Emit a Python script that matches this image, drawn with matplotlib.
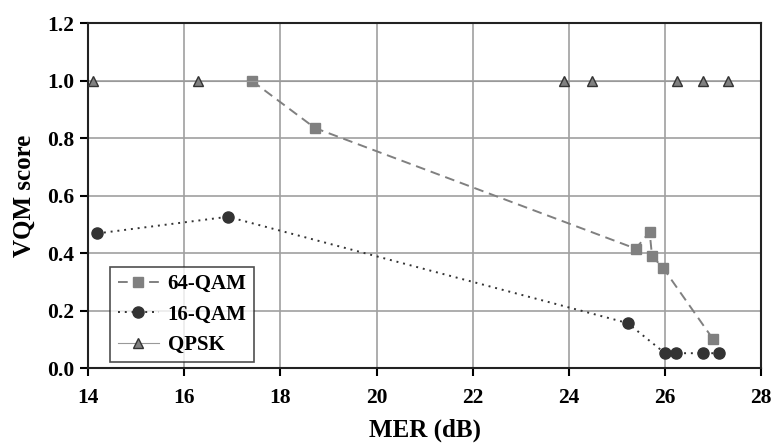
import matplotlib.pyplot as plt

# data
mer_64 = [17.41, 18.72, 25.39, 25.68, 25.73, 25.96, 26.99]
vqm_64 = [1.0, 0.836, 0.416, 0.474, 0.39, 0.349, 0.103]

mer_16 = [14.19, 16.91, 25.22, 26.0, 26.22, 26.78, 27.12]
vqm_16 = [0.469, 0.527, 0.157, 0.052, 0.052, 0.052, 0.052]

mer_qpsk = [14.1, 16.29, 23.9, 24.48, 26.25, 26.8, 27.3]
vqm_qpsk = [1.0, 1.0, 1.0, 1.0, 1.0, 1.0, 1.0]

x_ticks = [14, 16, 18, 20, 22, 24, 26, 28]
y_ticks = [0.0, 0.2, 0.4, 0.6, 0.8, 1.0, 1.2]

plt.rcParams['font.family'] = ['Liberation Serif', 'DejaVu Serif']
plt.rcParams['font.weight'] = 'bold'

fig = plt.figure(figsize=(7.72, 4.43), dpi=100)
ax = fig.add_axes([0.114, 0.169, 0.872, 0.778])

ax.plot(mer_64, vqm_64, ls=(0, (5, 3)), color='#808080', lw=1.4,
        marker='s', ms=7.5, mfc='#808080', mec='#808080', label='64-QAM', zorder=3)
ax.plot(mer_16, vqm_16, ls=(0, (1, 2.5)), color='#333333', lw=1.4,
        marker='o', ms=8, mfc='#333333', mec='#333333', label='16-QAM', zorder=3)
ax.plot(mer_qpsk, vqm_qpsk, ls='-', color='#999999', lw=0.8,
        marker='^', ms=7.5, mfc='#808080', mec='#333333', mew=1, label='QPSK', zorder=3)

ax.set_xlim(14, 28)
ax.set_ylim(0, 1.2)
ax.set_xticks(x_ticks)
ax.set_yticks(y_ticks)
ax.set_xticklabels([str(t) for t in x_ticks])
ax.set_yticklabels([f'{t:.1f}' for t in y_ticks])
ax.tick_params(labelsize=15.5, width=1.5, length=6, direction='out')
ax.tick_params(axis='x', pad=8)
ax.tick_params(axis='y', pad=4)
ax.grid(True, color='#a0a0a0', lw=1.2)
ax.set_axisbelow(True)
for s in ax.spines.values():
    s.set_linewidth(1.5)
    s.set_color('#222222')

ax.set_xlabel('MER (dB)', fontsize=18, fontweight='bold', labelpad=8)
ax.set_ylabel('VQM score', fontsize=18, fontweight='bold', labelpad=8)

leg = ax.legend(loc='lower left', bbox_to_anchor=(0.033, 0.017), borderaxespad=0,
                fontsize=15, frameon=True, fancybox=False, edgecolor='#222222',
                handlelength=2.0, borderpad=0.35, labelspacing=0.5,
                handletextpad=0.4)
leg.get_frame().set_linewidth(1.2)

fig.savefig('out.png', dpi=100)
